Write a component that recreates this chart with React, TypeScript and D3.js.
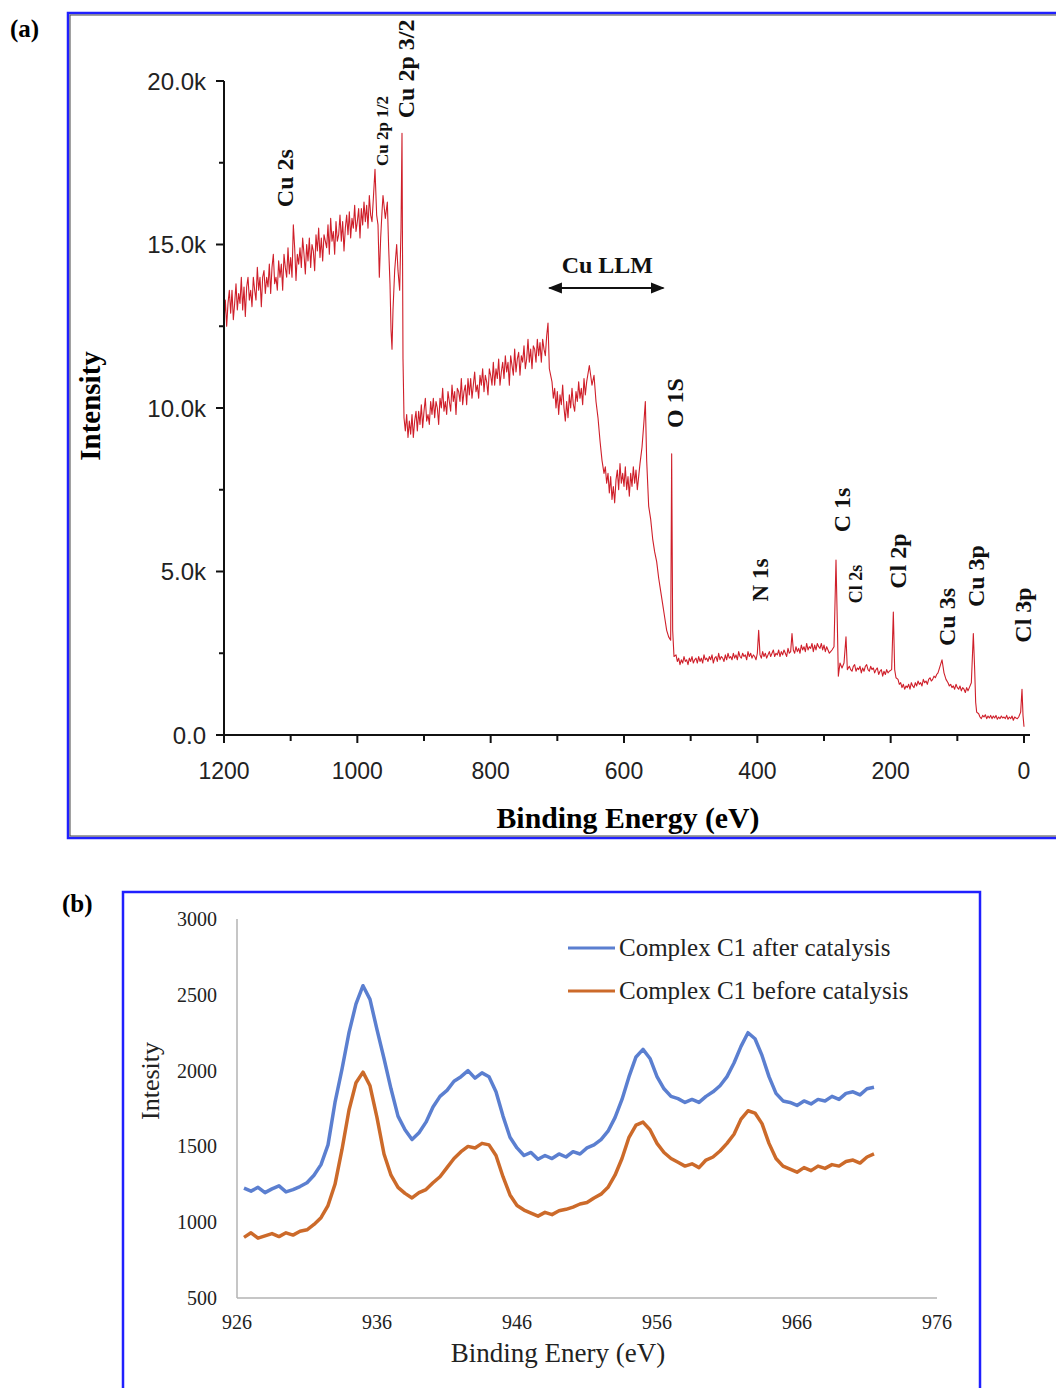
import React from 'react';
import * as d3 from 'd3';

// ---- panel (a): XPS survey, intensity in thousands of counts ----
// noisy stretches: start eV, step (eV, going down), values
const cu2sBand = { start: 1200, step: 2, values: [
  12.6, 13.3, 12.5, 13.2, 13.6, 12.9, 13.6, 12.7, 13.2, 13.8, 13.0, 13.5, 13.2, 14.0, 13.0, 13.7,
  12.8, 13.7, 14.0, 13.3, 13.6, 13.1, 14.0, 13.6, 13.3, 14.3, 13.6, 14.0, 13.1, 14.0, 14.2, 13.5,
  14.0, 13.7, 14.4, 13.5, 14.3, 14.7, 13.8, 14.0, 13.6, 14.5, 14.0, 14.4, 13.6, 14.7, 14.3, 14.0,
  14.9, 14.1, 14.6, 14.0, 15.6, 14.9, 13.9, 14.7, 14.4, 14.9, 14.3, 15.2, 14.7, 14.1, 15.0, 14.5,
  15.2, 14.3, 15.0, 14.8, 14.2, 15.3, 14.8, 15.5, 14.6, 15.2, 14.5, 15.3, 15.1, 14.9, 15.6, 14.7,
  15.8, 15.1, 15.4, 14.7, 15.7, 15.1, 15.3, 15.9, 15.1, 15.7, 14.8, 15.5, 15.9, 15.3, 16.0, 15.2,
  15.8, 15.5, 16.2, 15.4, 15.7, 16.1, 15.2, 16.1, 15.6, 16.3, 15.7, 16.2, 15.5, 16.5, 15.9, 15.7,
  16.4,
] };
const cu2pPeaks = [
  [973.5, 17.3], [971, 15.9], [969, 15.6], [967, 14.0], [965, 15.2], [963, 16.0], [961.5, 16.5],
  [958, 15.8], [955, 16.3], [953, 14.9], [951, 13.8], [949.5, 12.4], [948, 11.8], [946.5, 13.0],
  [944, 14.2], [941, 15.0], [939, 14.2], [936.5, 13.6], [934.5, 15.5], [933, 18.4], [931.5, 11.5],
  [930, 9.7],
];
const satBand = { start: 928, step: 2, values: [
  9.3, 9.8, 9.1, 9.6, 9.2, 9.8, 9.1, 9.6, 9.9, 9.3, 9.9, 9.5, 10.1, 9.4, 9.9, 10.3,
  9.6, 9.8, 9.5, 10.2, 9.8, 10.3, 9.7, 10.2, 10.0, 9.5, 10.3, 10.0, 10.6, 9.9, 10.2, 9.8,
  10.5, 10.2, 9.9, 10.7, 10.2, 10.5, 9.8, 10.6, 10.5, 10.2, 10.9, 10.1, 10.5, 10.7, 10.1, 10.9,
  10.4, 10.9, 10.3, 10.7, 11.1, 10.5, 10.7, 10.3, 11.0, 10.7, 11.2, 10.5, 11.0, 10.8, 10.4, 11.2,
  11.0, 10.7, 11.4, 10.7, 11.2, 10.9, 11.5, 10.7, 11.1, 11.4, 10.9, 11.6, 11.1, 11.4, 10.7, 11.6,
  11.3, 11.0, 11.8, 11.1, 11.5, 11.7, 11.0, 11.6, 11.4, 11.9, 11.2, 11.5, 12.1, 11.4, 11.8, 11.2,
  11.9, 11.8, 11.4, 12.1, 11.6, 12.0, 11.4, 12.1, 11.8, 11.6, 12.2,
] };
const llmEdge = [[714, 12.6], [712, 11.2]];
const llmBand = { start: 708, step: 2, values: [
  10.8, 10.3, 10.6, 10.0, 10.5, 9.8, 10.4, 10.1, 10.7, 10.0, 9.6, 10.2, 9.7, 10.4, 10.0, 10.6,
  10.1, 9.9, 10.5, 10.2, 10.8, 10.3, 10.6, 10.1, 10.9, 10.4, 10.8,
] };
const llmDrop = [[652, 11.3], [648, 10.7], [645, 11.0], [642, 10.2], [639, 9.7], [636, 9.0], [633, 8.4], [630, 8.0]];
const llmLow = { start: 628, step: 2, values: [
  8.2, 7.7, 8.0, 7.4, 7.9, 7.2, 7.6, 7.1, 7.8, 8.1, 7.5, 8.3, 7.7, 8.0, 7.6, 8.2,
  7.5, 7.9, 7.3, 8.0, 7.6, 8.2, 7.7, 8.1, 7.5, 7.9, 8.3,
] };
const o1sPeaks = [
  [573, 8.8], [570, 9.6], [568, 10.2], [566, 8.4], [563, 7.0], [560, 6.6], [557, 6.0], [554, 5.6],
  [551, 5.3], [548, 4.8], [545, 4.4], [542, 4.0], [539, 3.6], [536, 3.2], [533, 3.0], [530, 2.9],
  [528.5, 8.6], [527, 3.2], [525, 2.4],
];
const n1sBand = { start: 522, step: 2, values: [
  2.45, 2.25, 2.35, 2.15, 2.3, 2.2, 2.4, 2.25, 2.3, 2.15, 2.35, 2.25, 2.4, 2.2, 2.3, 2.35,
  2.2, 2.4, 2.25, 2.35, 2.2, 2.45, 2.3, 2.35, 2.25, 2.4, 2.3, 2.45, 2.2, 2.35, 2.4, 2.25,
  2.5, 2.3, 2.4, 2.35, 2.25, 2.45, 2.3, 2.5, 2.35, 2.4, 2.3, 2.5, 2.35, 2.45, 2.3, 2.55,
  2.4, 2.35, 2.5, 2.4, 2.45, 2.3, 2.55, 2.4, 2.5, 2.35, 2.45, 2.4, 2.3, 2.5, 3.2, 2.45,
  2.35, 2.55, 2.4, 2.5, 2.35, 2.45, 2.55, 2.4, 2.5, 2.6, 2.4, 2.5, 2.45, 2.6, 2.4, 2.55,
  2.45, 2.6, 2.5, 2.4, 2.65, 2.5, 2.55, 3.1, 2.6, 2.5, 2.7, 2.55, 2.65, 2.5, 2.75, 2.6,
  2.7, 2.55, 2.8, 2.6, 2.7, 2.65, 2.8, 2.55, 2.75, 2.6, 2.8, 2.7, 2.65, 2.8, 2.6, 2.75,
  2.55, 2.7, 2.6, 2.5, 2.55,
] };
const c1sPeaks = [[288, 2.6], [285, 2.7], [282, 5.35], [280, 3.4], [278.5, 1.8], [276, 2.2], [273, 2.05], [270, 2.2], [267, 3.0], [265, 2.0]];
const cl2sBand = { start: 262, step: 2, values: [
  2.1, 2.0, 1.95, 2.1, 2.15, 1.95, 2.05, 2.0, 2.1, 1.9, 2.05, 1.95, 2.1, 2.15, 2.0, 1.95,
  2.1, 2.0, 2.05, 1.9, 2.0, 2.05, 1.85, 1.95, 2.0, 1.8, 1.95, 1.85, 2.0, 1.9, 1.95,
] };
const cl2pPeaks = [[198.5, 2.0], [196, 3.76], [194, 2.0], [192, 1.75]];
const cl2pBand = { start: 189, step: 2, values: [
  1.7, 1.55, 1.6, 1.45, 1.55, 1.4, 1.5, 1.45, 1.55, 1.4, 1.6, 1.5, 1.45, 1.6, 1.5, 1.65,
  1.55, 1.6, 1.5, 1.7, 1.6, 1.65, 1.55, 1.7, 1.75, 1.65, 1.7, 1.8, 1.75, 1.85, 1.9,
] };
const cu3sPeaks = [[126, 2.1], [123, 2.3], [120, 1.9], [117, 1.7]];
const cu3sBand = { start: 114, step: 2, values: [
  1.6, 1.5, 1.55, 1.45, 1.5, 1.4, 1.55, 1.45, 1.4, 1.5, 1.35, 1.45, 1.4, 1.3, 1.45, 1.35, 1.45,
] };
const cu3pPeaks = [[79, 1.6], [76, 3.1], [74, 2.0], [72.5, 1.0], [71, 0.7]];
const lowBand = { start: 68, step: 2, values: [
  0.65, 0.55, 0.5, 0.6, 0.55, 0.62, 0.5, 0.58, 0.52, 0.6, 0.5, 0.58, 0.52, 0.6, 0.48, 0.55,
  0.5, 0.58, 0.52, 0.55, 0.5, 0.6, 0.48, 0.55, 0.5, 0.58, 0.45, 0.55, 0.52, 0.5, 0.55,
] };
const cl3pPeaks = [[5, 0.7], [3, 1.4], [1.5, 0.6], [0, 0.25]];

const surveyXTicks = [1200, 1000, 800, 600, 400, 200, 0];
const surveyYTicks = [0, 5, 10, 15, 20];

// peak annotations: label, eV of text baseline, intensity (k) of text centre, font size
const peakLabels = [
  { text: 'Cu 2s', ev: 1096.5, k: 17.03, size: 24 },
  { text: 'Cu 2p 1/2', ev: 954, k: 18.47, size: 17 },
  { text: 'Cu 2p 3/2', ev: 915, k: 20.37, size: 24 },
  { text: 'O 1S', ev: 511.5, k: 10.15, size: 24 },
  { text: 'N 1s', ev: 384, k: 4.74, size: 23 },
  { text: 'C 1s', ev: 261, k: 6.88, size: 24 },
  { text: 'Cl 2s', ev: 243, k: 4.62, size: 18 },
  { text: 'Cl 2p', ev: 177, k: 5.32, size: 24 },
  { text: 'Cu 3s', ev: 103.5, k: 3.61, size: 24 },
  { text: 'Cu 3p', ev: 60, k: 4.86, size: 24 },
  { text: 'Cl 3p', ev: -10.5, k: 3.67, size: 24 },
];
const llmRange = [712, 541];

// ---- panel (b): Cu 2p region, 926.5 eV to 971.5 eV every 0.5 eV ----
const cuStart = 926.5;
const cuStep = 0.5;
const afterCatalysis = [
  1225, 1205, 1230, 1195, 1220, 1240, 1200, 1215, 1235, 1260, 1310, 1380, 1510, 1790, 2010, 2250,
  2440, 2560, 2470, 2270, 2080, 1880, 1700, 1610, 1545, 1590, 1660, 1760, 1830, 1870, 1930, 1960,
  2000, 1950, 1985, 1960, 1860, 1700, 1560, 1490, 1440, 1460, 1415, 1440, 1420, 1450, 1430, 1465,
  1450, 1490, 1510, 1545, 1600, 1690, 1810, 1960, 2090, 2140, 2080, 1960, 1880, 1830, 1815, 1790,
  1810, 1790, 1830, 1860, 1900, 1960, 2050, 2160, 2250, 2210, 2100, 1960, 1850, 1800, 1790, 1770,
  1800, 1780, 1810, 1800, 1830, 1810, 1850, 1860, 1840, 1880, 1890,
];
const beforeCatalysis = [
  900, 930, 895, 910, 925, 905, 930, 915, 940, 950, 985, 1030, 1110, 1250, 1480, 1740,
  1920, 1990, 1900, 1690, 1450, 1310, 1230, 1190, 1160, 1195, 1215, 1260, 1300, 1360, 1420, 1465,
  1500, 1490, 1520, 1510, 1440, 1300, 1180, 1110, 1080, 1060, 1040, 1065, 1050, 1075, 1085, 1100,
  1120, 1130, 1160, 1185, 1230, 1310, 1420, 1560, 1640, 1660, 1610, 1520, 1460, 1420, 1395, 1370,
  1385, 1360, 1410, 1430, 1470, 1520, 1580, 1680, 1735, 1720, 1650, 1520, 1420, 1370, 1350, 1330,
  1360, 1340, 1370, 1355, 1380, 1370, 1400, 1410, 1390, 1430, 1450,
];
const cuXTicks = [926, 936, 946, 956, 966, 976];
const cuYTicks = [500, 1000, 1500, 2000, 2500, 3000];
const cuSeries = [
  { name: 'Complex C1 after catalysis', values: afterCatalysis, color: '#5b7fd0' },
  { name: 'Complex C1 before catalysis', values: beforeCatalysis, color: '#cc6a2a' },
];

const SERIF = '"Liberation Serif", "Times New Roman", serif';
const SANS = '"Liberation Sans", Arial, sans-serif';

function band(b: { start: number; step: number; values: number[] }) {
  return b.values.map((v, i) => [b.start - i * b.step, v]);
}

const survey = [
  ...band(cu2sBand), ...cu2pPeaks, ...band(satBand), ...llmEdge, ...band(llmBand), ...llmDrop,
  ...band(llmLow), ...o1sPeaks, ...band(n1sBand), ...c1sPeaks, ...band(cl2sBand), ...cl2pPeaks,
  ...band(cl2pBand), ...cu3sPeaks, ...band(cu3sBand), ...cu3pPeaks, ...band(lowBand), ...cl3pPeaks,
];

export default function App() {
  // panel (a)
  const xa = d3.scaleLinear().domain([1200, 0]).range([224, 1024]);
  const ya = d3.scaleLinear().domain([0, 20]).range([735, 81]);
  const lineA = d3.line<number[]>().x(d => xa(d[0])).y(d => ya(d[1]));
  const yMinor = d3.range(2.5, 20, 5);
  const xMinor = d3.range(1100, 0, -200);

  // panel (b)
  const xb = d3.scaleLinear().domain([926, 976]).range([237, 937]);
  const yb = d3.scaleLinear().domain([500, 3000]).range([1298, 919]);
  const lineB = d3.line<number>().x((_, i) => xb(cuStart + i * cuStep)).y(d => yb(d));

  const fmtK = (v: number) => (v === 0 ? '0.0' : d3.format('.1f')(v) + 'k');

  return (
    <svg width={1056} height={1388} style={{ position: 'absolute', left: 0, top: 0, background: '#fff' }}>
      <defs>
        <marker id="arr" viewBox="0 0 10 10" refX="9" refY="5" markerWidth="7" markerHeight="7" orient="auto-start-reverse">
          <path d="M0,1 L10,5 L0,9 z" fill="#111" />
        </marker>
      </defs>

      {/* ---------- panel (a) ---------- */}
      <rect x={68} y={13} width={1010} height={825} fill="none" stroke="#2020ff" strokeWidth={2.5} />
      <rect x={70} y={15} width={1010} height={821} fill="none" stroke="#444" strokeWidth={1} />
      <text x={10} y={37} fontFamily={SERIF} fontWeight="bold" fontSize={25}>(a)</text>

      <path d={lineA(survey) || ''} fill="none" stroke="#cf1f2a" strokeWidth={1.1} strokeLinejoin="round" />

      <line x1={224} x2={224} y1={ya(20)} y2={ya(0) + 1} stroke="#111" strokeWidth={2} />
      <line x1={223} x2={1030} y1={ya(0)} y2={ya(0)} stroke="#111" strokeWidth={2.2} />
      {surveyYTicks.map(t => (
        <g key={'ya' + t}>
          <line x1={216} x2={224} y1={ya(t)} y2={ya(t)} stroke="#111" strokeWidth={2} />
          <text x={206} y={ya(t)} dy="0.36em" textAnchor="end" fontFamily={SANS} fontSize={24} fill="#222">{fmtK(t)}</text>
        </g>
      ))}
      {yMinor.map(t => (
        <line key={'yam' + t} x1={219} x2={224} y1={ya(t)} y2={ya(t)} stroke="#111" strokeWidth={2} />
      ))}
      {surveyXTicks.map(t => (
        <g key={'xa' + t}>
          <line x1={xa(t)} x2={xa(t)} y1={ya(0)} y2={ya(0) + 8} stroke="#111" strokeWidth={2} />
          <text x={xa(t)} y={779} textAnchor="middle" fontFamily={SANS} fontSize={23} fill="#222">{t}</text>
        </g>
      ))}
      {xMinor.map(t => (
        <line key={'xam' + t} x1={xa(t)} x2={xa(t)} y1={ya(0)} y2={ya(0) + 6} stroke="#111" strokeWidth={2} />
      ))}

      <text transform="translate(100,406) rotate(-90)" textAnchor="middle" fontFamily={SERIF} fontWeight="bold" fontSize={29}>Intensity</text>
      <text x={628} y={828} textAnchor="middle" fontFamily={SERIF} fontWeight="bold" fontSize={29} textLength={263} lengthAdjust="spacingAndGlyphs">Binding Energy (eV)</text>

      {peakLabels.map(p => (
        <text key={p.text} transform={`translate(${xa(p.ev)},${ya(p.k)}) rotate(-90)`} textAnchor="middle"
          fontFamily={SERIF} fontWeight="bold" fontSize={p.size} fill="#111">{p.text}</text>
      ))}
      <text x={xa((llmRange[0] + llmRange[1]) / 2) + 1} y={273} textAnchor="middle" fontFamily={SERIF} fontWeight="bold" fontSize={24} fill="#111">Cu LLM</text>
      <line x1={xa(llmRange[0])} x2={xa(llmRange[1])} y1={288} y2={288} stroke="#111" strokeWidth={2}
        markerStart="url(#arr)" markerEnd="url(#arr)" />

      {/* ---------- panel (b) ---------- */}
      <rect x={123} y={892} width={857} height={520} fill="none" stroke="#2020ff" strokeWidth={2.5} />
      <text x={62} y={912} fontFamily={SERIF} fontWeight="bold" fontSize={25}>(b)</text>

      <line x1={xb(926)} x2={xb(926)} y1={yb(3000)} y2={yb(500)} stroke="#b3b3b3" strokeWidth={1.5} />
      <line x1={xb(926)} x2={xb(976)} y1={yb(500)} y2={yb(500)} stroke="#b3b3b3" strokeWidth={1.5} />
      {cuYTicks.map(t => (
        <text key={'yb' + t} x={217} y={yb(t)} dy="0.35em" textAnchor="end" fontFamily={SERIF} fontSize={20} fill="#222">{t}</text>
      ))}
      {cuXTicks.map(t => (
        <text key={'xb' + t} x={xb(t)} y={1329} textAnchor="middle" fontFamily={SERIF} fontSize={20} fill="#222">{t}</text>
      ))}
      <text transform="translate(159,1081) rotate(-90)" textAnchor="middle" fontFamily={SERIF} fontSize={26} fill="#222">Intesity</text>
      <text x={558} y={1362} textAnchor="middle" fontFamily={SERIF} fontSize={27} fill="#222">Binding Enery (eV)</text>

      {cuSeries.map(s => (
        <path key={s.name} d={lineB(s.values) || ''} fill="none" stroke={s.color} strokeWidth={3.5} strokeLinejoin="round" />
      ))}
      {cuSeries.map((s, i) => (
        <g key={'lg' + s.name}>
          <line x1={568} x2={615} y1={948 + i * 43} y2={948 + i * 43} stroke={s.color} strokeWidth={3} />
          <text x={619} y={956 + i * 43} fontFamily={SERIF} fontSize={25} fill="#222">{s.name}</text>
        </g>
      ))}
    </svg>
  );
}
